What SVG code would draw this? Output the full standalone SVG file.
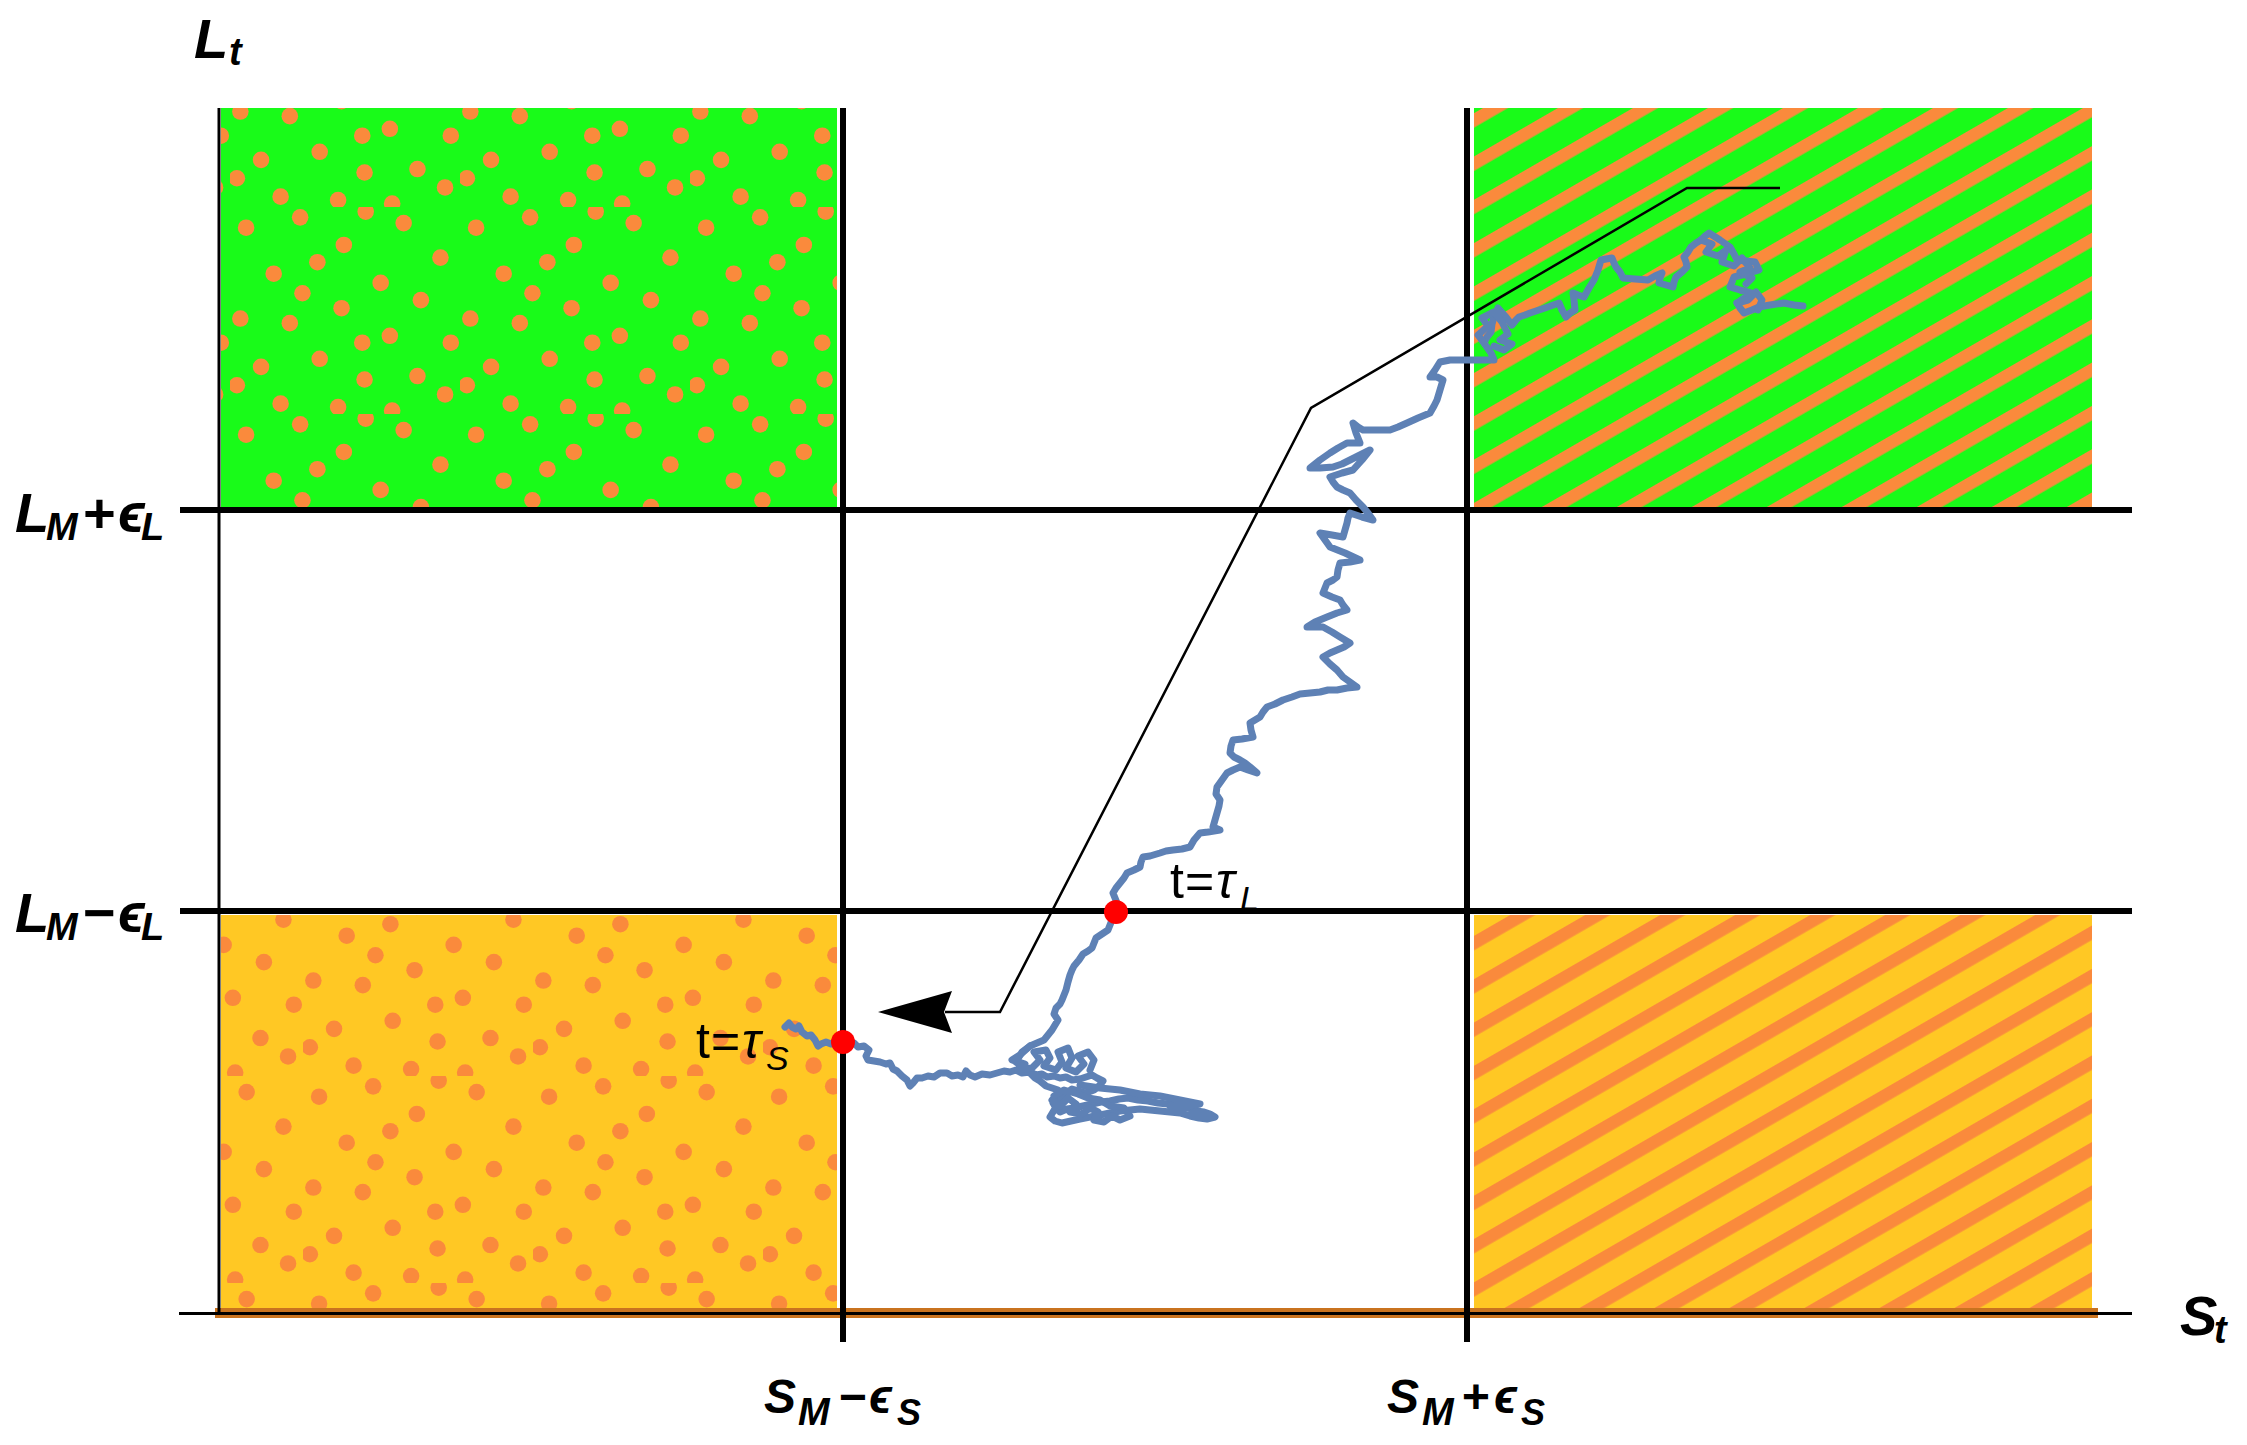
<svg xmlns="http://www.w3.org/2000/svg" width="2247" height="1445" viewBox="0 0 2247 1445">
<style>
.ax{font-family:"Liberation Sans","DejaVu Sans",sans-serif;font-weight:bold;font-style:italic;fill:#000}
.tl{font-family:"Liberation Sans","DejaVu Sans",sans-serif;fill:#000}
.it{font-style:italic}
.thick{stroke:#000;stroke-width:6;fill:none}
.thin{stroke:#000;stroke-width:3;fill:none}
.traj{fill:none;stroke:#5E81B5;stroke-width:7;stroke-linejoin:round;stroke-linecap:round}
.pt{fill:#FF0000}
</style>
<defs>
<pattern id="dots" width="200" height="180" patternUnits="userSpaceOnUse" patternTransform="scale(1.15)">
<g fill="#FA8A3C">
<circle cx="14" cy="18" r="7.2"/><circle cx="61" cy="9" r="7.2"/><circle cx="99" cy="33" r="7.2"/><circle cx="151" cy="14" r="7.2"/><circle cx="183" cy="44" r="7.2"/>
<circle cx="38" cy="58" r="7.2"/><circle cx="76" cy="48" r="7.2"/><circle cx="131" cy="66" r="7.2"/><circle cx="166" cy="81" r="7.2"/>
<circle cx="9" cy="97" r="7.2"/><circle cx="52" cy="101" r="7.2"/><circle cx="97" cy="88" r="7.2"/><circle cx="139" cy="112" r="7.2"/><circle cx="192" cy="118" r="7.2"/>
<circle cx="27" cy="139" r="7.2"/><circle cx="78" cy="132" r="7.2"/><circle cx="117" cy="150" r="7.2"/><circle cx="163" cy="147" r="7.2"/>
<circle cx="44" cy="171" r="7.2"/><circle cx="94" cy="174" r="7.2"/><circle cx="141" cy="177" r="7.2"/><circle cx="187" cy="163" r="7.2"/>
<circle cx="6" cy="155" r="7.2"/><circle cx="118" cy="4" r="7.2"/><circle cx="63" cy="75" r="7.2"/><circle cx="115" cy="118" r="7.2"/>
</g>
</pattern>
<pattern id="dots2" href="#dots" patternTransform="translate(73,41) scale(1.15)"/>
<pattern id="stripes" width="20" height="37.5" patternUnits="userSpaceOnUse" patternTransform="rotate(-30) translate(0,10)">
<rect x="0" y="0" width="20" height="12.5" fill="#FA8A3C"/>
</pattern>
</defs>

<g id="regions">
<g id="region-top-left">
<rect x="221" y="108" width="616" height="400" fill="#19FB19"/>
<rect x="221" y="108" width="616" height="400" fill="url(#dots)"/>
</g>
<g id="region-top-right">
<rect x="1474" y="108" width="618" height="400" fill="#19FB19"/>
<rect x="1474" y="108" width="618" height="400" fill="url(#stripes)"/>
</g>
<g id="region-bottom-left">
<rect x="221" y="915" width="616" height="398" fill="#FFC824"/>
<rect x="221" y="915" width="616" height="398" fill="url(#dots2)"/>
</g>
<g id="region-bottom-right">
<rect x="1474" y="915" width="618" height="398" fill="#FFC824"/>
<rect x="1474" y="915" width="618" height="398" fill="url(#stripes)"/>
</g>
<rect id="base-band" x="215" y="1308" width="1883" height="10" fill="#C9731F"/>
</g>

<g id="axes">
<line class="thin" x1="219" y1="108" x2="219" y2="1315"/>
<line class="thin" x1="179" y1="1313.5" x2="2132" y2="1313.5"/>
<line class="thick" x1="180" y1="510" x2="2132" y2="510"/>
<line class="thick" x1="180" y1="911" x2="2132" y2="911"/>
<line class="thick" x1="843" y1="108" x2="843" y2="1342"/>
<line class="thick" x1="1467" y1="108" x2="1467" y2="1342"/>
</g>

<g id="trajectory">
<polyline class="traj" points="785,1027 789,1023 792,1027 796,1029 799,1026 802,1032 807,1036 811,1035 815,1040 818,1046 821,1044 826,1042 831,1044 836,1041 843,1042 849,1045 854,1043 858,1047 864,1046 869,1050 866,1056 868,1060 874,1061 880,1062 886,1064 890,1063 893,1069 897,1071 902,1076 907,1080 910,1086 913,1083 917,1078 922,1078 928,1076 934,1077 940,1073 947,1073 952,1076 958,1075 963,1077 966,1071 970,1075 975,1077 982,1074 990,1075 997,1073 1004,1071 1010,1072 1016,1070 1022,1073 1030,1072 1036,1075 1042,1074 1047,1077 1054,1076 1060,1078 1066,1077 1072,1080 1080,1079 1086,1077 1092,1075 1097,1078 1103,1081 1099,1086 1094,1090 1086,1093 1079,1091 1072,1089 1066,1094 1060,1098 1053,1103 1056,1108 1060,1112 1067,1109 1074,1108 1083,1106 1092,1104 1101,1102 1110,1101 1119,1099 1128,1098 1138,1100 1148,1101 1158,1103 1168,1104 1178,1106 1188,1108 1196,1111 1204,1112 1210,1114 1215,1117 1207,1119 1199,1118 1190,1116 1180,1113 1170,1112 1160,1111 1150,1110 1140,1109 1130,1110 1120,1111 1110,1113 1100,1115 1090,1117 1080,1119 1071,1121 1062,1123 1055,1121 1050,1117 1053,1112 1056,1107 1062,1104 1066,1100 1062,1095 1058,1090 1052,1088 1046,1086 1040,1081 1035,1078 1031,1074 1028,1070 1022,1066 1016,1062 1019,1057 1022,1052 1026,1049 1030,1046 1037,1043 1044,1040 1048,1035 1052,1030 1055,1025 1058,1020 1054,1014 1056,1008 1060,1004 1062,1000 1064,995 1066,990 1068,982 1070,975 1072,970 1074,966 1079,960 1083,954 1088,951 1092,948 1094,943 1096,938 1102,934 1108,930 1110,925 1112,920 1116,912 1117,903 1113,893 1116,888 1120,883 1124,878 1127,873 1134,870 1140,867 1141,862 1143,857 1150,856 1160,853 1166,851 1173,850 1182,849 1190,847 1194,840 1200,833 1208,832 1220,830 1213,827 1215,820 1217,813 1219,806 1220,800 1216,794 1217,787 1222,780 1227,773 1233,770 1240,767 1248,770 1257,773 1250,767 1245,763 1240,760 1234,757 1230,753 1231,746 1233,740 1242,739 1253,737 1251,730 1250,723 1255,720 1260,717 1263,712 1267,707 1275,704 1283,700 1292,697 1300,694 1310,693 1320,692 1328,690 1337,690 1347,688 1357,687 1350,682 1343,677 1337,670 1330,664 1323,657 1330,653 1337,650 1344,647 1350,643 1345,640 1340,637 1332,632 1323,627 1315,627 1307,627 1315,622 1327,617 1337,613 1347,610 1343,605 1340,600 1332,597 1323,593 1325,588 1327,583 1333,580 1337,577 1338,570 1340,563 1350,562 1360,560 1345,553 1330,547 1325,540 1320,533 1332,535 1343,537 1345,530 1347,523 1348,518 1350,513 1362,517 1373,520 1368,513 1363,507 1356,500 1350,493 1343,490 1337,487 1333,482 1330,477 1342,473 1353,470 1362,460 1370,450 1360,455 1350,460 1342,464 1333,467 1320,468 1310,468 1320,460 1330,453 1338,448 1347,443 1355,443 1360,443 1356,433 1353,423 1358,427 1363,430 1377,430 1390,430 1398,427 1407,423 1418,418 1430,413 1434,406 1437,400 1440,390 1443,380 1437,377 1430,377 1435,370 1440,362 1450,360 1466,360 1480,360 1494,360 1491,353 1484,343 1487,337 1491,332 1492,324 1494,317 1498,308 1505,316 1512,325 1516,320 1519,317 1525,315 1530,313 1545,308 1559,303 1562,310 1566,317 1570,313 1575,310 1574,300 1573,293 1578,295 1584,297 1589,288 1594,280 1598,270 1601,260 1606,259 1612,258 1614,263 1616,267 1620,272 1623,278 1635,279 1648,280 1655,276 1662,273 1660,278 1659,283 1666,285 1673,287 1674,282 1676,277 1682,272 1687,267 1686,262 1684,257 1688,252 1691,247 1696,243 1701,240 1705,236 1709,233 1720,240 1730,247 1734,254 1737,260 1746,261 1755,262 1757,266 1759,270 1746,274 1734,277 1732,282 1730,287 1740,290 1751,293 1744,298 1737,303 1740,308 1744,313 1752,310 1759,307 1770,305 1784,303 1794,305 1803,306"/>
<polyline class="traj" points="1030,1046 1020,1055 1012,1060 1025,1064 1018,1070 1032,1068 1040,1060 1034,1052 1046,1050 1050,1058 1044,1066 1056,1070 1062,1062 1058,1052 1068,1048 1072,1058 1066,1068 1076,1072 1084,1064 1078,1056 1088,1052 1094,1060 1090,1070"/>
<polyline class="traj" points="1052,1100 1060,1106 1068,1098 1076,1104 1070,1112 1082,1114 1090,1108 1098,1112 1094,1120 1104,1122 1112,1116 1120,1120 1130,1116 1124,1108 1110,1106 1100,1100 1088,1098 1078,1094 1064,1090 1054,1096"/>
<polyline class="traj" points="1080,1085 1100,1088 1120,1090 1140,1094 1160,1096 1180,1100 1200,1104 1190,1106 1170,1106"/>
<polyline class="traj" points="1484,343 1478,335 1488,326 1482,318 1494,312 1502,322 1508,334 1500,340 1512,344 1504,350 1494,346"/>
<polyline class="traj" points="1701,240 1712,244 1706,252 1718,256 1726,250 1722,262 1734,266 1742,258 1750,268 1740,272 1752,278 1746,284"/>
<polyline class="traj" points="1737,303 1748,300 1756,292 1762,300 1758,310"/>
</g>

<g id="connector-arrow">
<polyline points="1780,188 1687,188 1311,408 1000,1012 945,1012" fill="none" stroke="#000" stroke-width="2.5" stroke-linejoin="miter"/>
<polygon points="878,1012 952,991 944,1012 952,1033" fill="#000"/>
</g>

<g id="point-tauL"><circle class="pt" cx="1116" cy="912" r="12"/></g>
<g id="point-tauS"><circle class="pt" cx="843" cy="1042" r="12"/></g>

<g id="labels">
<g id="label-Lt"><text class="ax" x="194" y="58" font-size="56">L</text><text class="ax" x="229" y="65" font-size="38">t</text></g>
<g id="label-LMpe"><text class="ax" x="15" y="532" font-size="56">L</text><text class="ax" x="46" y="540" font-size="38">M</text><text class="ax" x="82" y="532" font-size="56">+</text><text class="ax" x="118" y="532" font-size="56">ϵ</text><text class="ax" x="141" y="540" font-size="38">L</text></g>
<g id="label-LMme"><text class="ax" x="15" y="932" font-size="56">L</text><text class="ax" x="46" y="940" font-size="38">M</text><text class="ax" x="82" y="932" font-size="56">−</text><text class="ax" x="118" y="932" font-size="56">ϵ</text><text class="ax" x="141" y="940" font-size="38">L</text></g>
<g id="label-SMme"><text class="ax" x="764" y="1413" font-size="48">S</text><text class="ax" x="798" y="1425" font-size="38">M</text><text class="ax" x="838" y="1413" font-size="48">−</text><text class="ax" x="869" y="1413" font-size="48">ϵ</text><text class="ax" x="897" y="1425" font-size="36">S</text></g>
<g id="label-SMpe"><text class="ax" x="1387" y="1413" font-size="48">S</text><text class="ax" x="1422" y="1425" font-size="38">M</text><text class="ax" x="1461" y="1413" font-size="48">+</text><text class="ax" x="1494" y="1413" font-size="48">ϵ</text><text class="ax" x="1521" y="1425" font-size="36">S</text></g>
<g id="label-St"><text class="ax" x="2180" y="1335" font-size="56">S</text><text class="ax" x="2214" y="1343" font-size="38">t</text></g>
<g id="label-tauL"><text class="tl" x="1170" y="898" font-size="50">t</text><text class="tl" x="1185" y="898" font-size="50">=</text><text class="tl it" x="1216" y="898" font-size="50">τ</text><text class="tl it" x="1240" y="910" font-size="34">L</text></g>
<g id="label-tauS"><text class="tl" x="696" y="1058" font-size="50">t</text><text class="tl" x="711" y="1058" font-size="50">=</text><text class="tl it" x="742" y="1058" font-size="50">τ</text><text class="tl it" x="766" y="1070" font-size="34">S</text></g>
</g>
</svg>
